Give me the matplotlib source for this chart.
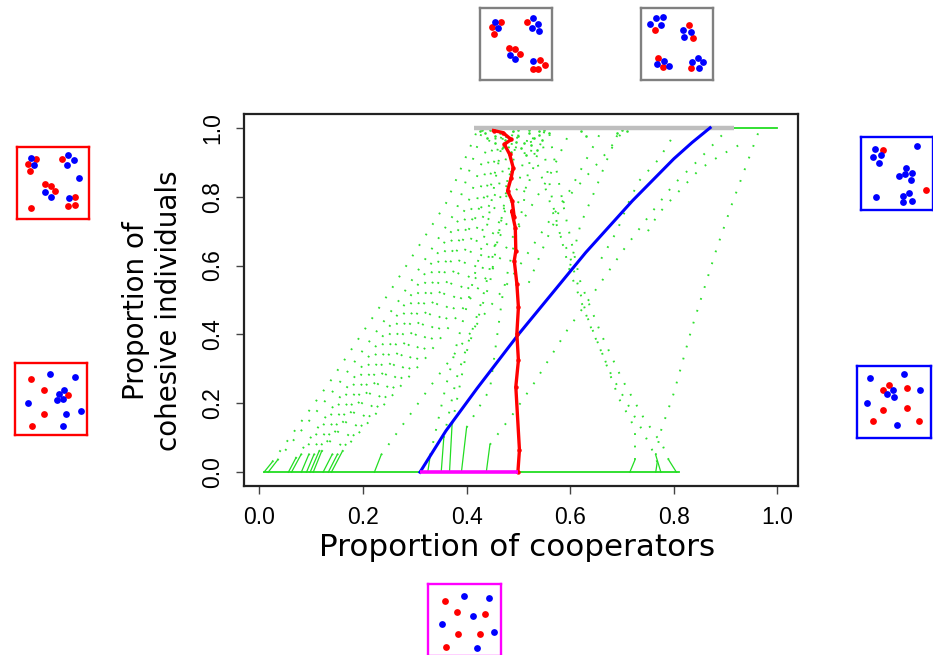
import matplotlib
matplotlib.use("Agg")
import matplotlib.pyplot as plt

# ---------------- data ----------------
# green trajectories (proportion of cooperators, proportion cohesive)
traj_x = [
    [0.009, 0.025, 0.136, 0.25, 0.36, 0.42],
    [0.017, 0.035, 0.15, 0.27, 0.38, 0.43],
    [0.056, 0.07, 0.19, 0.30, 0.40, 0.45],
    [0.062, 0.08, 0.21, 0.32, 0.42, 0.46],
    [0.081, 0.095, 0.22, 0.33, 0.43, 0.47],
    [0.091, 0.105, 0.24, 0.35, 0.44, 0.48],
    [0.098, 0.115, 0.25, 0.37, 0.46, 0.49],
    [0.104, 0.12, 0.27, 0.39, 0.48, 0.50],
    [0.123, 0.14, 0.28, 0.41, 0.50, 0.52],
    [0.133, 0.15, 0.30, 0.43, 0.52, 0.55],
    [0.139, 0.16, 0.32, 0.46, 0.56, 0.60],
    [0.222, 0.235, 0.34, 0.48, 0.60, 0.66],
    [0.325, 0.33, 0.36, 0.40, 0.44, 0.47],
    [0.351, 0.356, 0.38, 0.43, 0.47, 0.50],
    [0.367, 0.372, 0.40, 0.445, 0.475, 0.49],
    [0.39, 0.40, 0.445, 0.47, 0.51, 0.53],
    [0.438, 0.445, 0.49, 0.53, 0.594, 0.648, 0.704, 0.757, 0.80, 0.85, 0.90],
    [0.715, 0.725, 0.725, 0.717, 0.694, 0.662, 0.633, 0.617, 0.598, 0.579, 0.56, 0.54, 0.52],
    [0.765, 0.768, 0.758, 0.739, 0.71, 0.68, 0.64, 0.60, 0.57, 0.545],
    [0.805, 0.79, 0.778, 0.742, 0.70, 0.66, 0.62, 0.59, 0.56],
    [0.775, 0.765, 0.775, 0.80, 0.835, 0.882, 0.912, 0.964],
    [0.52, 0.55, 0.585, 0.623, 0.66, 0.70],
    [0.60, 0.62, 0.65, 0.669, 0.694],
    [0.66, 0.69, 0.714, 0.733, 0.771, 0.803],
    [0.75, 0.77, 0.80, 0.85, 0.89, 0.938],
]
traj_y = [
    [0.0, 0.03, 0.262, 0.52, 0.78, 0.99],
    [0.0, 0.035, 0.25, 0.50, 0.76, 0.99],
    [0.0, 0.04, 0.29, 0.53, 0.77, 0.99],
    [0.0, 0.05, 0.31, 0.55, 0.79, 0.99],
    [0.0, 0.05, 0.30, 0.54, 0.78, 0.99],
    [0.0, 0.05, 0.32, 0.56, 0.80, 0.99],
    [0.0, 0.06, 0.31, 0.57, 0.82, 0.99],
    [0.0, 0.06, 0.33, 0.59, 0.84, 0.99],
    [0.0, 0.05, 0.31, 0.58, 0.83, 0.99],
    [0.0, 0.05, 0.32, 0.59, 0.84, 0.99],
    [0.0, 0.06, 0.33, 0.61, 0.86, 0.99],
    [0.0, 0.05, 0.27, 0.55, 0.82, 0.99],
    [0.0, 0.05, 0.25, 0.48, 0.72, 0.97],
    [0.0, 0.10, 0.27, 0.50, 0.75, 0.98],
    [0.0, 0.14, 0.35, 0.55, 0.80, 0.99],
    [0.0, 0.13, 0.24, 0.52, 0.78, 0.99],
    [0.0, 0.08, 0.17, 0.258, 0.412, 0.527, 0.648, 0.754, 0.836, 0.91, 0.99],
    [0.0, 0.036, 0.122, 0.151, 0.214, 0.344, 0.45, 0.532, 0.634, 0.692, 0.788, 0.88, 0.98],
    [0.0, 0.03, 0.065, 0.122, 0.20, 0.28, 0.42, 0.58, 0.75, 0.97],
    [0.0, 0.036, 0.079, 0.157, 0.27, 0.40, 0.55, 0.75, 0.98],
    [0.0, 0.05, 0.12, 0.23, 0.42, 0.646, 0.778, 0.99],
    [0.55, 0.66, 0.78, 0.845, 0.909, 0.986],
    [0.60, 0.72, 0.826, 0.90, 0.99],
    [0.62, 0.70, 0.788, 0.846, 0.909, 0.986],
    [0.70, 0.75, 0.80, 0.88, 0.92, 0.96],
]
# dense cluster near full cohesion
top_x = [0.425, 0.435, 0.445, 0.455, 0.465, 0.475, 0.49, 0.50, 0.51, 0.52, 0.53, 0.54,
         0.455, 0.47, 0.485, 0.495, 0.505, 0.515, 0.525, 0.535, 0.545, 0.44, 0.43,
         0.50, 0.52, 0.54, 0.55, 0.56, 0.62, 0.63, 0.69, 0.70, 0.71]
top_y = [0.99, 0.985, 0.995, 0.975, 0.985, 0.965, 0.99, 0.975, 0.955, 0.985, 0.97, 0.99,
         0.955, 0.945, 0.93, 0.96, 0.94, 0.92, 0.95, 0.935, 0.965, 0.97, 0.995,
         0.995, 0.995, 0.98, 0.995, 0.985, 0.99, 0.975, 0.985, 0.995, 0.99]

base_green_x = [0.009, 0.81]
top_green_x = [0.42, 0.999]
grey_x = [0.415, 0.916]
magenta_x = [0.31, 0.50]

blue_x = [0.31, 0.36, 0.42, 0.50, 0.63, 0.72, 0.80, 0.835, 0.87]
blue_y = [0.0, 0.12, 0.243, 0.40, 0.638, 0.788, 0.91, 0.957, 1.0]

red_x = [0.499, 0.502, 0.495, 0.500, 0.497, 0.500, 0.497, 0.492, 0.495, 0.494, 0.487,
         0.492, 0.488, 0.479, 0.486, 0.490, 0.483, 0.473, 0.486, 0.470, 0.452]
red_y = [0.0, 0.065, 0.248, 0.325, 0.402, 0.479, 0.547, 0.614, 0.643, 0.71, 0.759,
         0.74, 0.788, 0.817, 0.855, 0.884, 0.923, 0.952, 0.966, 0.986, 0.992]

x_ticks = [0.0, 0.2, 0.4, 0.6, 0.8, 1.0]
y_ticks = [0.0, 0.2, 0.4, 0.6, 0.8, 1.0]
tick_labels = ["0.0", "0.2", "0.4", "0.6", "0.8", "1.0"]

# inset snapshots: dot positions (0-100 box units, y downward)
insets = {
    "grey1": dict(red=[(29, 20), (16, 27), (20, 36), (65, 20), (40, 55), (49, 57), (55, 64),
                       (83, 72), (90, 79), (81, 85), (73, 85)],
                  blue=[(21, 19), (25, 28), (73, 14), (80, 22), (72, 28), (82, 32), (41, 65),
                        (49, 71), (74, 73)]),
    "grey2": dict(red=[(19, 30), (66, 24), (72, 41), (24, 70), (31, 82), (70, 84)],
                  blue=[(13, 22), (21, 14), (30, 12), (28, 23), (59, 31), (70, 33), (60, 40),
                        (22, 78), (32, 73), (39, 80), (79, 70), (86, 75), (71, 75), (80, 84)]),
    "red1": dict(red=[(27, 17), (15, 24), (18, 33), (63, 17), (39, 52), (47, 54), (53, 61),
                      (81, 69), (80, 81), (71, 82), (19, 85)],
                 blue=[(19, 15), (24, 25), (71, 11), (79, 18), (70, 25), (86, 43), (39, 63),
                       (47, 69), (72, 71)]),
    "red2": dict(red=[(22, 22), (40, 38), (73, 45), (40, 71), (24, 87)],
                 blue=[(48, 15), (84, 20), (68, 37), (61, 43), (58, 52), (66, 50), (18, 56),
                       (71, 71), (91, 66), (66, 88)]),
    "blue1": dict(red=[(31, 18), (90, 73)],
                  blue=[(19, 16), (16, 27), (28, 25), (25, 35), (78, 12), (63, 42), (61, 51),
                        (71, 49), (53, 53), (69, 59), (21, 82), (58, 81), (67, 77), (71, 88),
                        (58, 89)]),
    "blue2": dict(red=[(35, 33), (43, 27), (68, 30), (35, 61), (68, 59), (21, 77), (84, 76)],
                  blue=[(18, 17), (63, 11), (85, 34), (48, 34), (41, 39), (50, 43), (14, 52),
                        (54, 82)]),
    "magenta": dict(red=[(23, 23), (40, 39), (78, 41), (41, 70), (71, 70), (25, 88)],
                    blue=[(49, 16), (83, 20), (61, 45), (19, 56), (90, 67), (67, 89)]),
}
# inset placement in pixels: left, top, width, height, edge colour
inset_place = {
    "grey1": (480, 8, 72, 72, "#808080"),
    "grey2": (641, 8, 72, 72, "#808080"),
    "red1": (17, 147, 72, 72, "#ff0000"),
    "red2": (15, 363, 72, 72, "#ff0000"),
    "blue1": (861, 137, 72, 73, "#0000ff"),
    "blue2": (857, 366, 74, 72, "#0000ff"),
    "magenta": (428, 584, 73, 72, "#ff00ff"),
}

# ---------------- figure ----------------
W, H = 933, 655
fig = plt.figure(figsize=(W / 100, H / 100), dpi=100)
L, R, T, B = 244, 798, 114, 486
ax = fig.add_axes([L / W, 1 - B / H, (R - L) / W, (B - T) / H])

green_line = "#22dd22"
green_dot = "#2ee02e"
dot_style = (0, (0.9, 5.5))

ax.plot(base_green_x, [0, 0], color=green_line, lw=1.3, zorder=2)
ax.plot(top_green_x, [1, 1], color=green_line, lw=1.3, zorder=2)

for xs, ys in zip(traj_x, traj_y):
    if ys[0] == 0.0:
        ax.plot(xs[:2], ys[:2], color=green_line, lw=0.9, zorder=2)
        ax.plot(xs[1:], ys[1:], color=green_dot, lw=1.4, linestyle=dot_style, zorder=2)
    else:
        ax.plot(xs, ys, color=green_dot, lw=1.4, linestyle=dot_style, zorder=2)

ax.scatter(top_x, top_y, s=3.5, color=green_dot, linewidths=0, zorder=2)

ax.plot(grey_x, [1, 1], color="#bebebe", lw=3.2, solid_capstyle="butt", zorder=3)
ax.plot(blue_x, blue_y, color="#0000ff", lw=2.2, zorder=4)
ax.plot(red_x, red_y, color="#ff0000", lw=2.4, marker="o", ms=2.2, zorder=5)
ax.plot(magenta_x, [0, 0], color="#ff00ff", lw=2.6, solid_capstyle="butt", zorder=6)

ax.set_xlim(-0.0296, 1.0396)
ax.set_ylim(-0.04, 1.04)
ax.set_xticks(x_ticks)
ax.set_xticklabels(tick_labels, fontsize=16.5, family="Liberation Sans")
ax.set_yticks(y_ticks)
ax.set_yticklabels(tick_labels, fontsize=16.5, family="Liberation Sans",
                   rotation=90, va="center")
ax.tick_params(axis="both", direction="out", length=5.5, width=1.0, color="#444444",
               pad=9)
for s in ax.spines.values():
    s.set_linewidth(1.6)
    s.set_color("#222222")

ax.set_xlabel("Proportion of cooperators", fontsize=22.3, family="DejaVu Sans")
ax.xaxis.set_label_coords(0.492, -0.125)
ax.set_ylabel("Proportion of\ncohesive individuals", fontsize=20,
              family="DejaVu Sans", linespacing=1.22)
ax.yaxis.set_label_coords(-0.111, 0.47)

# inset snapshots
for key, (lx, ty, w, h, ec) in inset_place.items():
    iax = fig.add_axes([lx / W, 1 - (ty + h) / H, w / W, h / H])
    pts = insets[key]
    iax.scatter([p[0] for p in pts["red"]], [p[1] for p in pts["red"]],
                s=24, color="#ff0000", linewidths=0)
    iax.scatter([p[0] for p in pts["blue"]], [p[1] for p in pts["blue"]],
                s=24, color="#0000ff", linewidths=0)
    iax.set_xlim(0, 100)
    iax.set_ylim(100, 0)
    iax.set_xticks([])
    iax.set_yticks([])
    for s in iax.spines.values():
        s.set_color(ec)
        s.set_linewidth(1.7)

fig.savefig("out.png", dpi=100)
